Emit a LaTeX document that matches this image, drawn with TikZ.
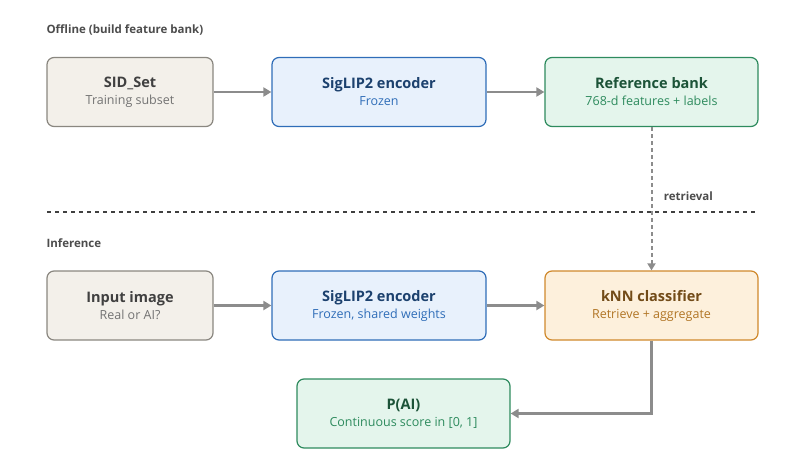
\documentclass[tikz,border=0pt]{standalone}
\usepackage{fontspec}
\setmainfont{Open Sans}
\usetikzlibrary{positioning,arrows.meta}
\definecolor{grayfill}{HTML}{F3F0EA}\definecolor{grayline}{HTML}{8A8780}
\definecolor{bluefill}{HTML}{E8F1FC}\definecolor{blueline}{HTML}{2F6DB8}
\definecolor{greenfill}{HTML}{E4F5EC}\definecolor{greenline}{HTML}{2E8B5E}
\definecolor{orangefill}{HTML}{FDF0DC}\definecolor{orangeline}{HTML}{D0892C}
\definecolor{arrowgray}{HTML}{8C8C8C}
\newcommand{\subtxt}{\mdseries\fontsize{12.5}{15}\selectfont}
\tikzset{
  box/.style={draw, rounded corners=7pt, line width=1.2pt, minimum width=166pt, minimum height=69pt, align=center, font=\bfseries\fontsize{14.5}{19}\selectfont},
  graybox/.style={box, fill=grayfill, draw=grayline},
  bluebox/.style={box, fill=bluefill, draw=blueline, minimum width=214pt},
  greenbox/.style={box, fill=greenfill, draw=greenline, minimum width=213pt},
  orangebox/.style={box, fill=orangefill, draw=orangeline, minimum width=213pt},
  flow/.style={-{Triangle[length=8pt,width=9pt]}, line width=2.5pt, draw=arrowgray},
  heading/.style={font=\bfseries\fontsize{11.5}{13}\selectfont, text=black!70, anchor=west}
}
\begin{document}
\begin{tikzpicture}[x=1pt,y=-1pt]
\useasboundingbox (0,0) rectangle (806,474);
% offline row
\node[graybox] (sid) at (130,92) {\textcolor{black!75}{SID\_Set}\\[-2pt]{\subtxt\textcolor{black!55}{Training subset}}};
\node[bluebox] (enc1) at (379,92) {\textcolor{blueline!60!black}{SigLIP2 encoder}\\[-2pt]{\subtxt\textcolor{blueline}{Frozen}}};
\node[greenbox] (bank) at (651.5,92) {\textcolor{greenline!60!black}{Reference bank}\\[-2pt]{\subtxt\textcolor{greenline}{768-d features + labels}}};
% inference row
\node[graybox] (img) at (130,305.5) {\textcolor{black!75}{Input image}\\[-2pt]{\subtxt\textcolor{black!55}{Real or AI?}}};
\node[bluebox] (enc2) at (379,305.5) {\textcolor{blueline!60!black}{SigLIP2 encoder}\\[-2pt]{\subtxt\textcolor{blueline}{Frozen, shared weights}}};
\node[orangebox] (knn) at (651.5,305.5) {\textcolor{orangeline!55!black}{kNN classifier}\\[-2pt]{\subtxt\textcolor{orangeline!85!black}{Retrieve + aggregate}}};
\node[greenbox] (pai) at (403.5,413.5) {\textcolor{greenline!60!black}{P(AI)}\\[-2pt]{\subtxt\textcolor{greenline}{Continuous score in [0, 1]}}};
% headings
\node[heading] (h1) at (43,30) {Offline (build feature bank)};
\node[heading] (h2) at (43,243) {Inference};
\coordinate (sepL) at (47,212);
\coordinate (sepR) at (756,212);
\draw[dashed, dash pattern=on 4pt off 4pt, line width=1.5pt, black!75] (sepL) -- (sepR);
% connectors
\draw[flow] (sid) -- (enc1);
\draw[flow] (enc1) -- (bank);
\draw[flow] (img) -- (enc2);
\draw[flow] (enc2) -- (knn);
\draw[-{Triangle[length=7pt,width=8pt]}, line width=2pt, draw=arrowgray, dash pattern=on 4pt off 3pt] (bank) -- node[right=8pt, pos=0.48, font=\bfseries\fontsize{11.5}{13}\selectfont, text=black!70] {retrieval} (knn);
\draw[flow] (knn.south) |- (pai.east);
\end{tikzpicture}
\end{document}
